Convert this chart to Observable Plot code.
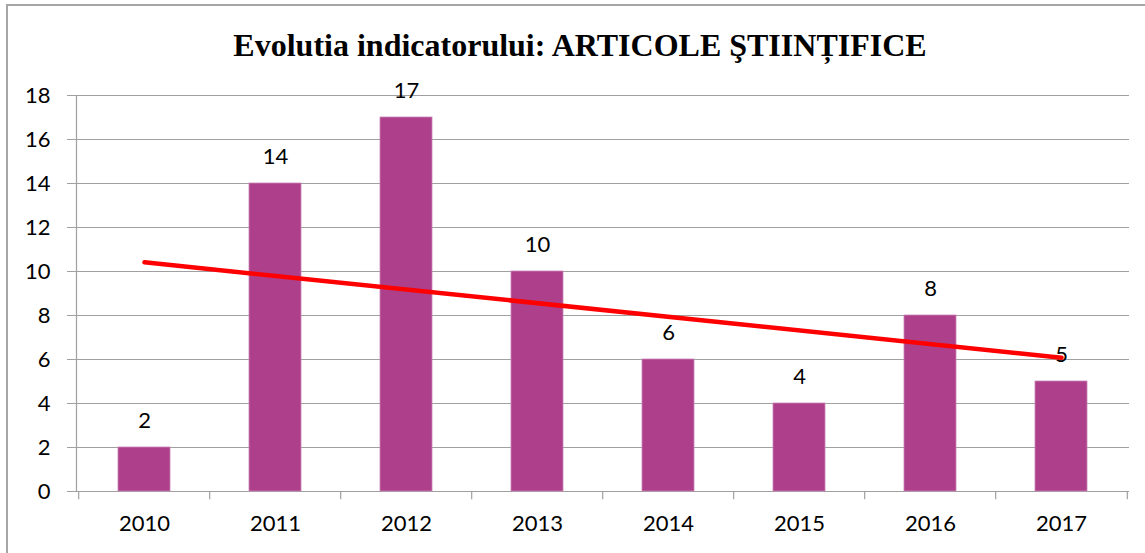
<!DOCTYPE html>
<html>
<head>
<meta charset="utf-8">
<script src="https://cdn.jsdelivr.net/npm/d3@7"></script>
<script src="https://cdn.jsdelivr.net/npm/@observablehq/plot@0.6"></script>
<style>
  html, body { margin: 0; padding: 0; background: #fff; overflow: hidden; }
  #wrap { position: relative; width: 1145px; height: 553px; overflow: hidden; }
  #border { position: absolute; left: 6px; top: 4px; width: 1300px; height: 700px;
            border-left: 2px solid #a6a6a6; border-top: 2px solid #a6a6a6; box-sizing: border-box; }
  #title { position: absolute; left: 0; top: 0; width: 1160px; height: 75px; text-align: center;
           font-family: "Liberation Serif", "Times New Roman", serif; font-weight: bold; font-size: 32px;
           line-height: 90px; color: #000; }
  #chart { position: absolute; left: 0; top: 75px; }
</style>
</head>
<body>
<div id="wrap">
  <div id="border"></div>
  <div id="title">Evolutia indicatorului: ARTICOLE ŞTIINȚIFICE</div>
  <div id="chart"></div>
</div>
<script>
const years = ["2010", "2011", "2012", "2013", "2014", "2015", "2016", "2017"];
const articles = [2, 14, 17, 10, 6, 4, 8, 5];
const yTicks = [0, 2, 4, 6, 8, 10, 12, 14, 16, 18];

const data = years.map((y, i) => ({year: y, value: articles[i]}));

// linear trend line (least squares) through the series
const n = articles.length;
const mx = (n - 1) / 2;
const my = d3.mean(articles);
let sxy = 0, sxx = 0;
articles.forEach((v, i) => { sxy += (i - mx) * (v - my); sxx += (i - mx) ** 2; });
const slope = sxy / sxx;
const intercept = my - slope * mx;
const trend = [
  {year: years[0], value: intercept},
  {year: years[n - 1], value: intercept + slope * (n - 1)}
];

const W = 1145, H = 478;
const mL = 76, mR = 16, mT = 20, mB = 62;
const step = (W - mL - mR) / years.length;
const font = "Lato, 'Open Sans', sans-serif";

const chart = Plot.plot({
  width: W,
  height: H,
  marginLeft: mL,
  marginRight: mR,
  marginTop: mT,
  marginBottom: mB,
  style: {fontFamily: font, fontSize: "22px", color: "#000", background: "transparent", overflow: "visible"},
  x: {domain: years, paddingInner: 0.6, paddingOuter: 0.3, align: 0.5, label: null},
  y: {domain: [0, 18], ticks: yTicks, label: null},
  marks: [
    Plot.ruleY(yTicks, {stroke: "#a0a0a0", strokeWidth: 1.2, insetLeft: -9}),
    Plot.frame({anchor: "left", stroke: "#a0a0a0", strokeWidth: 1.2}),
    Plot.ruleX(years, {x: d => d, y1: 0, y2: -0.37, dx: -step / 2, stroke: "#a0a0a0", strokeWidth: 1.2}),
    Plot.ruleX([years[n - 1]], {x: d => d, y1: 0, y2: -0.37, dx: step / 2, stroke: "#a0a0a0", strokeWidth: 1.2}),
    Plot.barY(data, {x: "year", y: "value", fill: "#ae3f8a", stroke: "#c985b5", strokeWidth: 0.8}),
    Plot.text(data, {x: "year", y: "value", text: d => String(d.value), dy: -27, fontSize: 22, fill: "#000"}),
    Plot.line(trend, {x: "year", y: "value", stroke: "#ff0000", strokeWidth: 4.5, strokeLinecap: "round"}),
    Plot.axisY({ticks: yTicks, tickSize: 0, tickPadding: 26, fontSize: 22, label: null}),
    Plot.axisX({tickSize: 0, tickPadding: 24, fontSize: 22, label: null})
  ]
});
document.getElementById("chart").appendChild(chart);
</script>
</body>
</html>
